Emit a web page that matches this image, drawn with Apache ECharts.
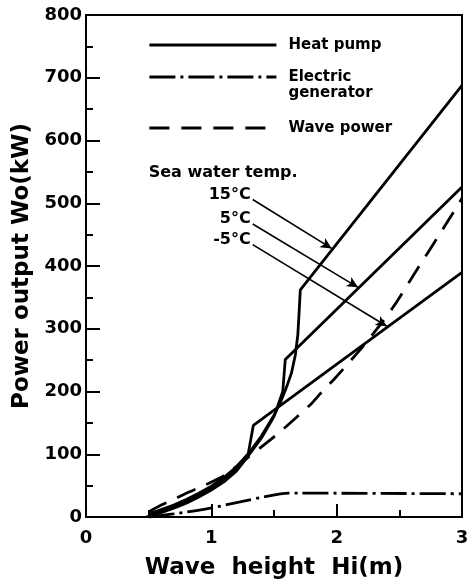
<!DOCTYPE html>
<html>
<head>
<meta charset="utf-8">
<script src="https://cdn.jsdelivr.net/npm/echarts@6/dist/echarts.min.js"></script>
<style>
html, body { margin:0; padding:0; background:#fff; }
#chart { width:475px; height:585px; }
</style>
</head>
<body>
<div id="chart"></div>
<script>
// heat pump, 15°C (common rising curve, then straight part)
const hp15X = [0.5, 0.6, 0.7, 0.8, 0.9, 1.0, 1.1, 1.2, 1.3, 1.4, 1.5, 1.55, 1.6, 1.64, 1.67, 1.69, 1.70, 1.71, 3.0];
const hp15Y = [5, 12, 19, 28, 38, 49, 63, 80, 102, 129, 162, 182, 207, 230, 258, 290, 325, 362, 688];
// heat pump, 5°C
const hp5X = [0.5, 0.6, 0.7, 0.8, 0.9, 1.0, 1.1, 1.2, 1.3, 1.4, 1.5, 1.57, 1.59, 3.0];
const hp5Y = [3, 10, 17, 25, 35, 46, 60, 77, 99, 126, 160, 200, 251, 526];
// heat pump, -5°C
const hpm5X = [0.48, 0.6, 0.7, 0.8, 0.9, 1.0, 1.1, 1.2, 1.29, 1.335, 3.0];
const hpm5Y = [0, 7, 14, 22, 32, 43, 56, 73, 96, 146, 390];
// wave power
const waveX = [0.5, 0.6, 0.7, 0.8, 0.93, 1.1, 1.3, 1.44, 1.55, 1.68, 1.8, 1.88, 2.0, 2.21, 2.37, 2.48, 2.64, 2.81, 2.97, 3.0];
const waveY = [8, 19, 28, 38, 49, 66, 96, 118, 136, 159, 181, 199, 224, 272, 312, 343, 394, 447, 498, 508];
// electric generator
const genX = [0.5, 0.7, 0.96, 1.23, 1.44, 1.55, 1.62, 1.7, 3.0];
const genY = [0, 5, 13, 24, 33, 37, 38, 38, 37];

// annotation arrows: label point -> line point
const arrowFrom = [[1.33, 506], [1.33, 467], [1.33, 434]];
const arrowTo = [[1.96, 428], [2.17, 366], [2.40, 304]];
const tempLabels = ['15°C', '5°C', '-5°C'];

const FONT = 'DejaVu Sans';
const LW = 2.8;
const pairs = (xs, ys) => xs.map((x, i) => [x, ys[i]]);

const chart = echarts.init(document.getElementById('chart'));

const lineBase = {
    type:'line',
    symbol:'none',
    silent:true,
    animation:false
};
const arrow = i => ({
    silent:true,
    symbol:['none', 'arrow'],
    symbolSize:[8, 11],
    label:{ show:false },
    lineStyle:{ type:'solid', color:'#000', width:1.6 },
    data:[[ { coord:arrowFrom[i] }, { coord:arrowTo[i] } ]]
});

const legendText = {
    fontFamily:FONT,
    fontWeight:'bold',
    fontSize:15,
    color:'#000',
    lineHeight:16,
    padding:[0, 0, 0, 7]
};
const legendBase = {
    left:148, padding:0, itemWidth:127, itemHeight:14,
    itemStyle:{ opacity:0 },
    lineStyle:{ width:LW },
    textStyle:legendText
};

const option = {
    animation:false,
    grid:{
        left:86, right:13, top:15, bottom:67,
        show:true, borderColor:'#000', borderWidth:2
    },
    legend:[
        Object.assign({}, legendBase, { data:['Heat pump'], top:37 }),
        Object.assign({}, legendBase, { data:['Electric generator'], top:53,
            formatter:() => '\nElectric\ngenerator' }),
        Object.assign({}, legendBase, { data:['Wave power'], top:120 })
    ],
    xAxis:{
        type:'value', min:0, max:3, interval:1,
        name:'Wave  height  Hi(m)', nameLocation:'middle', nameGap:40,
        nameTextStyle:{ fontFamily:FONT, fontWeight:'bold', fontSize:23, color:'#000' },
        axisLine:{ lineStyle:{ color:'#000', width:2 } },
        axisTick:{ inside:true, length:13, lineStyle:{ color:'#000', width:2 } },
        minorTick:{ show:true, splitNumber:2, length:7, lineStyle:{ color:'#000', width:2 } },
        splitLine:{ show:false },
        axisLabel:{ margin:12, fontFamily:FONT, fontWeight:'bold', fontSize:18, color:'#000' }
    },
    yAxis:{
        type:'value', min:0, max:800, interval:100,
        name:'Power output Wo(kW)', nameLocation:'middle', nameGap:52,
        nameTextStyle:{ fontFamily:FONT, fontWeight:'bold', fontSize:23, color:'#000' },
        axisLine:{ lineStyle:{ color:'#000', width:2 } },
        axisTick:{ inside:true, length:14, lineStyle:{ color:'#000', width:2 } },
        minorTick:{ show:true, splitNumber:2, length:7, lineStyle:{ color:'#000', width:2 } },
        splitLine:{ show:false },
        axisLabel:{ margin:4, fontFamily:FONT, fontWeight:'bold', fontSize:18, color:'#000' }
    },
    series:[
        Object.assign({}, lineBase, {
            name:'Heat pump', data:pairs(hp15X, hp15Y),
            lineStyle:{ color:'#000', width:LW }, itemStyle:{ color:'#000' },
            markLine:arrow(0)
        }),
        Object.assign({}, lineBase, {
            name:'Heat pump', data:pairs(hp5X, hp5Y),
            lineStyle:{ color:'#000', width:LW }, itemStyle:{ color:'#000' },
            markLine:arrow(1)
        }),
        Object.assign({}, lineBase, {
            name:'Heat pump', data:pairs(hpm5X, hpm5Y),
            lineStyle:{ color:'#000', width:LW }, itemStyle:{ color:'#000' },
            markLine:arrow(2)
        }),
        Object.assign({}, lineBase, {
            name:'Electric generator', data:pairs(genX, genY), smooth:0.3,
            lineStyle:{ color:'#000', width:LW, type:[26, 5, 3, 5] }, itemStyle:{ color:'#000' }
        }),
        Object.assign({}, lineBase, {
            name:'Wave power', data:pairs(waveX, waveY), smooth:0.2,
            lineStyle:{ color:'#000', width:LW, type:[20, 12] }, itemStyle:{ color:'#000' }
        })
    ]
};
chart.setOption(option);

// annotation texts placed in data space
const texts = [{ type:'text', style:{
    text:'Sea water temp.', fontFamily:FONT, fontWeight:'bold', fontSize:16, fill:'#000',
    textAlign:'left', textVerticalAlign:'middle' },
    position:chart.convertToPixel({ gridIndex:0 }, [0.5, 548]) }];
tempLabels.forEach((t, i) => {
    const p = chart.convertToPixel({ gridIndex:0 }, arrowFrom[i]);
    texts.push({ type:'text', position:[p[0] - 2, p[1] - 5], style:{
        text:t, fontFamily:FONT, fontWeight:'bold', fontSize:16, fill:'#000',
        textAlign:'right', textVerticalAlign:'middle' } });
});
chart.setOption({ graphic:texts });
</script>
</body>
</html>
